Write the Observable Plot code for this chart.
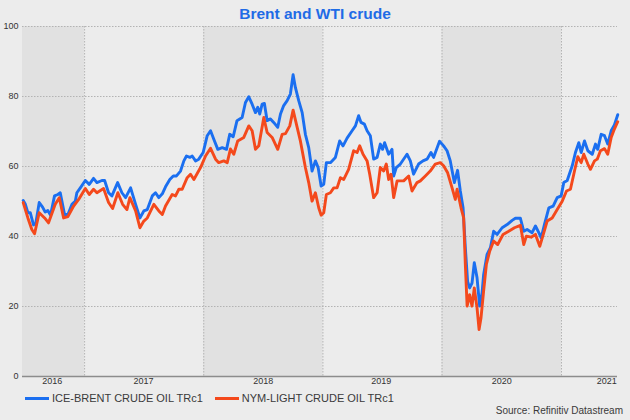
<!DOCTYPE html>
<html>
<head>
<meta charset="utf-8">
<script src="https://cdn.jsdelivr.net/npm/d3@7"></script>
<script src="https://cdn.jsdelivr.net/npm/@observablehq/plot@0.6"></script>
<style>
  html, body { margin: 0; padding: 0; background: #ececec; }
  body { width: 630px; height: 420px; overflow: hidden; font-family: "Liberation Sans", Arial, sans-serif; }
  #wrap { position: relative; width: 630px; height: 420px; }
  #title { position: absolute; top: 4px; left: 0; width: 630px; height: 20px; line-height: 20px; text-align: center;
           font-weight: bold; font-size: 15.5px; color: #1f6be6; letter-spacing: 0px; }
  #chart { position: absolute; top: 0; left: 0; }
  #legend { position: absolute; top: 391px; left: 25px; height: 14px; display: flex; align-items: center; font-size: 11px; color: #3a3a3a; }
  .item { display: flex; align-items: center; margin-right: 12px; }
  .sw { width: 24px; height: 3px; margin-right: 3px; }
  #source { position: absolute; top: 405px; right: 7px; height: 12px; line-height: 12px; font-size: 10px; color: #3a3a3a; }
</style>
</head>
<body>
<div id="wrap">
  <div id="chart"></div>
  <div id="title">Brent and WTI crude</div>
  <div id="legend"></div>
  <div id="source">Source: Refinitiv Datastream</div>
</div>
<script>
// ---- data (decimal-year time, price in USD/bbl) ----
const brentT = [2016.486,2016.503,2016.525,2016.545,2016.572,2016.592,2016.620,2016.648,2016.670,2016.692,2016.715,2016.748,2016.776,2016.796,2016.832,2016.860,2016.894,2016.922,2016.935,2016.964,
2017.006,2017.039,2017.075,2017.103,2017.145,2017.168,2017.201,2017.229,2017.277,2017.313,2017.344,2017.386,2017.428,2017.464,2017.497,2017.526,2017.568,2017.595,2017.623,2017.652,2017.679,2017.715,2017.744,2017.771,2017.805,2017.833,2017.855,2017.883,2017.903,2017.931,2017.958,2017.995,
2018.029,2018.057,2018.090,2018.118,2018.155,2018.191,2018.218,2018.247,2018.279,2018.322,2018.350,2018.378,2018.406,2018.434,2018.453,2018.470,2018.490,2018.509,2018.532,2018.560,2018.587,2018.621,2018.644,2018.671,2018.700,2018.727,2018.750,2018.769,2018.797,2018.826,2018.853,2018.881,2018.909,2018.937,2018.960,2018.985,
2019.007,2019.029,2019.063,2019.105,2019.141,2019.169,2019.203,2019.245,2019.273,2019.300,2019.320,2019.348,2019.371,2019.398,2019.426,2019.455,2019.482,2019.501,2019.518,2019.552,2019.580,2019.594,2019.616,2019.650,2019.706,2019.734,2019.761,2019.803,2019.840,2019.874,2019.907,2019.929,2019.979,
2020.013,2020.042,2020.069,2020.103,2020.130,2020.153,2020.176,2020.195,2020.214,2020.231,2020.251,2020.270,2020.293,2020.315,2020.335,2020.348,2020.377,2020.405,2020.432,2020.461,2020.503,2020.545,2020.587,2020.614,2020.656,2020.684,2020.712,2020.754,2020.782,2020.810,2020.830,2020.857,2020.894,2020.930,2020.964,2020.997,
2021.019,2021.048,2021.090,2021.117,2021.145,2021.165,2021.193,2021.221,2021.258,2021.285,2021.304,2021.333,2021.361,2021.388,2021.417,2021.444,2021.472];
const brentV = [50.3,49.3,46.8,46.8,43.3,43.9,49.7,48.4,47.0,47.4,46.1,51.6,52.0,52.5,46.3,46.3,49.2,50.1,52.5,53.9,
56.0,54.9,56.6,55.4,56.0,56.0,52.5,51.6,55.4,52.5,51.1,53.9,49.2,45.3,47.3,47.7,51.6,52.5,51.1,52.2,54.2,56.3,57.3,57.3,58.7,61.6,63.0,62.6,63.0,61.6,62.1,64.0,
68.8,70.2,67.3,64.9,65.4,64.9,69.2,68.5,73.1,74.0,78.3,79.9,77.8,75.4,76.9,75.0,77.8,78.0,73.1,73.6,72.6,71.2,75.0,77.4,78.8,80.7,86.2,82.6,78.8,75.4,69.2,65.4,58.7,61.6,59.7,54.4,
54.9,61.1,61.1,62.6,67.3,65.9,68.1,70.2,71.6,74.5,72.6,72.1,70.2,68.8,62.1,62.6,66.4,64.9,66.8,63.5,64.9,57.3,59.7,60.7,63.5,61.6,57.8,60.7,61.6,62.1,64.0,62.6,67.2,
65.9,64.5,61.6,55.4,58.9,53.0,48.2,36.8,27.2,25.3,26.7,32.5,28.2,20.1,23.9,29.1,34.9,36.8,41.5,40.6,42.5,43.4,44.6,45.2,45.2,41.5,42.0,41.1,43.0,41.1,39.6,43.4,48.2,48.7,51.1,51.6,
55.4,56.0,60.2,64.0,66.8,64.0,67.3,64.5,63.5,66.4,64.9,69.2,68.8,66.4,70.2,71.9,74.8];

const wtiT = [2016.486,2016.525,2016.558,2016.581,2016.620,2016.665,2016.698,2016.754,2016.788,2016.824,2016.860,2016.908,2016.950,
2017.006,2017.039,2017.075,2017.103,2017.159,2017.201,2017.235,2017.279,2017.319,2017.355,2017.380,2017.428,2017.464,2017.497,2017.526,2017.581,2017.623,2017.652,2017.679,2017.735,2017.763,2017.791,2017.819,2017.861,2017.889,2017.917,2017.973,
2018.015,2018.057,2018.099,2018.126,2018.168,2018.197,2018.224,2018.252,2018.285,2018.336,2018.378,2018.406,2018.434,2018.462,2018.504,2018.532,2018.574,2018.621,2018.658,2018.686,2018.722,2018.750,2018.784,2018.811,2018.853,2018.881,2018.909,2018.937,2018.965,2018.985,
2019.007,2019.029,2019.063,2019.091,2019.119,2019.147,2019.175,2019.216,2019.258,2019.287,2019.309,2019.337,2019.371,2019.393,2019.426,2019.455,2019.482,2019.510,2019.532,2019.552,2019.572,2019.594,2019.623,2019.678,2019.720,2019.748,2019.790,2019.818,2019.860,2019.901,2019.943,2019.985,
2020.013,2020.047,2020.084,2020.111,2020.126,2020.159,2020.181,2020.195,2020.210,2020.231,2020.251,2020.270,2020.293,2020.310,2020.326,2020.348,2020.371,2020.399,2020.432,2020.466,2020.511,2020.558,2020.606,2020.656,2020.684,2020.706,2020.746,2020.782,2020.818,2020.852,2020.880,2020.922,2020.964,
2021.006,2021.042,2021.075,2021.109,2021.137,2021.165,2021.187,2021.221,2021.243,2021.277,2021.300,2021.327,2021.361,2021.388,2021.417,2021.444,2021.472];
const wtiV = [49.7,45.3,42.0,40.8,46.8,45.3,43.9,49.2,51.1,45.3,45.7,48.7,50.6,
53.7,52.0,53.5,52.5,53.7,49.7,48.0,52.5,49.2,47.7,51.1,47.3,42.5,44.4,45.3,49.2,47.3,46.3,48.7,52.0,51.6,53.5,53.5,56.8,57.8,56.3,59.7,
63.0,65.2,62.1,61.1,61.6,61.1,65.0,63.5,67.3,68.3,71.6,70.2,64.9,65.9,74.0,69.7,68.3,64.9,69.2,69.4,71.6,76.1,71.2,67.3,59.7,55.4,50.1,52.5,48.2,46.1,
46.8,52.0,52.5,53.9,53.9,56.8,56.3,59.2,64.5,64.0,65.9,63.5,61.6,57.8,51.1,52.5,59.7,58.7,60.7,56.3,57.8,51.1,55.9,55.9,57.3,53.0,55.4,55.9,57.3,58.7,60.7,61.1,
60.2,58.2,53.9,50.6,53.5,48.2,45.3,32.0,20.1,23.4,20.1,25.3,19.6,13.4,16.7,24.4,32.0,35.8,38.7,37.7,40.6,41.5,42.5,43.2,37.7,40.1,39.8,40.6,37.2,41.1,44.4,45.3,47.7,
50.1,53.0,53.5,58.7,62.8,61.1,63.5,60.7,59.2,61.6,62.1,64.5,65.1,63.5,68.3,70.7,72.8];

const seriesNames = ["ICE-BRENT CRUDE OIL TRc1", "NYM-LIGHT CRUDE OIL TRc1"];
const seriesColors = ["#1b6ff0", "#f4491c"];
const yTicks = [0, 20, 40, 60, 80, 100];
const yearStarts = [2017, 2018, 2019, 2020, 2021];
const bandStarts = [2016, 2018, 2020];
const bandEnds = [2017, 2019, 2021];
const yearLabels = ["2016", "2017", "2018", "2019", "2020", "2021"];
const yearLabelPos = [2016.73, 2017.495, 2018.50, 2019.49, 2020.50, 2021.38];
const xStart = 2016.48, xEnd = 2021.47;

// ---- helpers ----
function toDate(t) {
  const y = Math.floor(t);
  const s = Date.UTC(y, 0, 1), e = Date.UTC(y + 1, 0, 1);
  return new Date(s + (t - y) * (e - s));
}
const brent = brentT.map((t, i) => ({date: toDate(t), value: brentV[i]}));
const wti = wtiT.map((t, i) => ({date: toDate(t), value: wtiV[i]}));
const bands = bandStarts.map((s, i) => ({x1: toDate(Math.max(s, xStart)), x2: toDate(Math.min(bandEnds[i], xEnd))}));
const labels = yearLabels.map((l, i) => ({date: toDate(yearLabelPos[i]), text: l}));

const chart = Plot.plot({
  width: 630,
  height: 390,
  marginTop: 26,
  marginBottom: 14,
  marginLeft: 22,
  marginRight: 13,
  style: {background: "transparent", fontFamily: "'Liberation Sans', Arial, sans-serif", fontSize: "9px", color: "#333"},
  x: {type: "utc", domain: [toDate(xStart), toDate(xEnd)], axis: null},
  y: {domain: [0, 100], ticks: yTicks, tickSize: 0, tickPadding: 4, label: null, tickFormat: d => String(d)},
  marks: [
    Plot.rect(bands, {x1: "x1", x2: "x2", y1: 0, y2: 100, fill: "#e1e1e1"}),
    Plot.ruleY(yTicks.filter(d => d > 0), {stroke: "#b3b3b3", strokeWidth: 1, strokeDasharray: "1.5,1.5"}),
    Plot.ruleX(yearStarts.map(toDate), {stroke: "#b3b3b3", strokeWidth: 1, strokeDasharray: "1.5,1.5"}),
    Plot.ruleY([0], {stroke: "#8c8c8c", strokeWidth: 1.3}),
    Plot.text(labels, {x: "date", frameAnchor: "bottom", dy: 7, text: "text", fontSize: 9, fill: "#333"}),
    Plot.line(brent, {x: "date", y: "value", stroke: seriesColors[0], strokeWidth: 2.9, strokeLinejoin: "round"}),
    Plot.line(wti, {x: "date", y: "value", stroke: seriesColors[1], strokeWidth: 2.9, strokeLinejoin: "round"})
  ]
});
document.getElementById("chart").appendChild(chart);

const legend = document.getElementById("legend");
seriesNames.forEach((n, i) => {
  const it = document.createElement("div");
  it.className = "item";
  const sw = document.createElement("div");
  sw.className = "sw";
  sw.style.background = seriesColors[i];
  const tx = document.createElement("span");
  tx.textContent = n;
  it.appendChild(sw); it.appendChild(tx);
  legend.appendChild(it);
});
</script>
</body>
</html>
